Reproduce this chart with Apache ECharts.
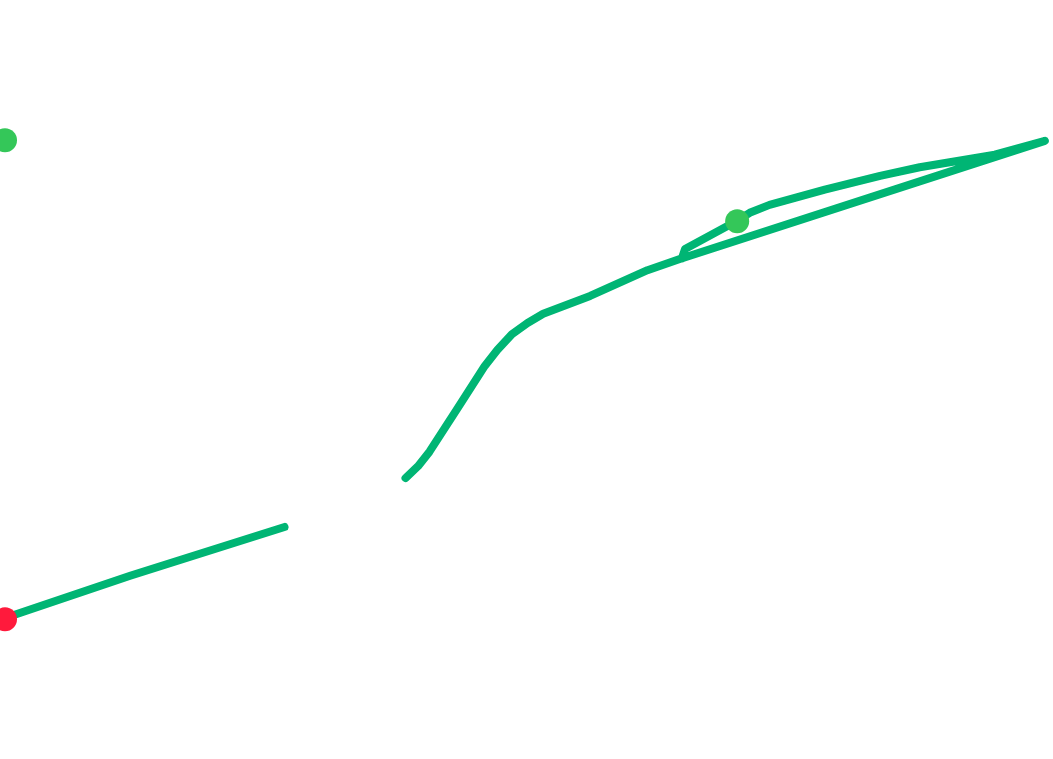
<!DOCTYPE html>
<html>
<head>
<meta charset="utf-8">
<script src="https://cdn.jsdelivr.net/npm/echarts@6/dist/echarts.min.js"></script>
<style>html,body{margin:0;padding:0;background:#fff;}#c{width:1053px;height:759px;}</style>
</head>
<body>
<div id="c"></div>
<script>
// path values (x, y); '-' marks a gap
var pathX = [0, 12.0, 26.8, '-', 38.4, 39.6, 40.7, 43.4, 46.0, 47.2, 48.6, 50.1, 51.6, 56.1, 61.6, 64.7, 99.7, 94.9, 87.7, 83.9, 78.6, 73.3, 71.4, 70.2, 65.2, 64.9];
var pathY = [15.3, 21.7, 29.1, '-', 36.5, 38.3, 40.5, 47.1, 53.5, 55.9, 58.3, 60.0, 61.4, 64.1, 68.0, 69.7, 87.6, 85.5, 83.6, 82.3, 80.2, 77.9, 76.7, 75.5, 71.2, 69.8];
// highlighted points
var dotX = [0, 0, 70.2];
var dotY = [87.7, 15.1, 75.4];
var dotColors = ['#34c759', '#ff1a3c', '#34c759'];

var lineData = pathX.map(function (x, i) { return [x, pathY[i]]; });
var dotData = dotX.map(function (x, i) {
  return { value: [x, dotY[i]], itemStyle: { color: dotColors[i], opacity: 1 } };
});

var chart = echarts.init(document.getElementById('c'));
chart.setOption({
  animation: false,
  backgroundColor: '#ffffff',
  grid: { left: 5, right: 5, top: 59, bottom: 40 },
  xAxis: { type: 'value', min: 0, max: 100, show: false },
  yAxis: { type: 'value', min: 0, max: 100, show: false },
  series: [
    {
      type: 'line',
      data: lineData,
      showSymbol: false,
      symbol: 'none',
      connectNulls: false,
      lineStyle: { color: '#00b574', width: 8, cap: 'round', join: 'round' },
      z: 2
    },
    {
      type: 'scatter',
      data: dotData,
      symbolSize: 24,
      itemStyle: { opacity: 1 },
      z: 3
    }
  ]
});
</script>
</body>
</html>
